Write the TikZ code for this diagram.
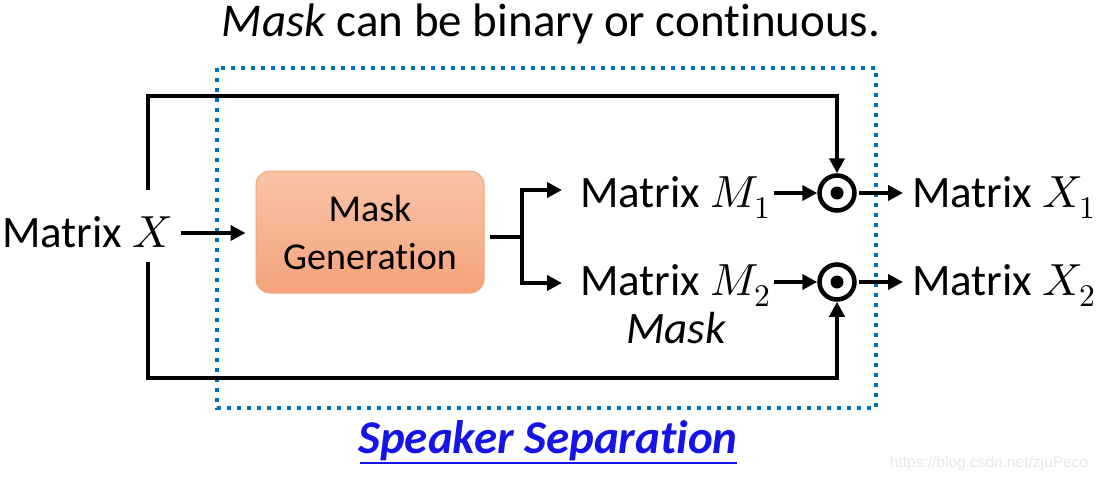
\documentclass[tikz,border=0pt]{standalone}
\usepackage{fontspec}
\usepackage{unicode-math}
\setmainfont[Ligatures=NoCommon]{Carlito}
\setmathfont{Latin Modern Math}
\newfontfamily\wmfont{Liberation Sans}
\usetikzlibrary{arrows.meta}
\definecolor{dotblue}{HTML}{0070C0}
\definecolor{ssblue}{HTML}{1414E6}
\definecolor{boxtop}{HTML}{F9C4A6}
\definecolor{boxbot}{HTML}{F4A27C}
\definecolor{boxedge}{HTML}{F2A679}
\tikzset{
  conn/.style={line width=4.5pt, -{Triangle[length=15pt,width=15pt]}},
  wire/.style={line width=4.5pt},
  lbl/.style={font=\fontsize{45}{52}\selectfont, inner sep=0pt},
  odotnode/.style={circle, draw, line width=4.5pt, minimum size=35pt, inner sep=0pt},
}
\begin{document}
\begin{tikzpicture}[x=1pt,y=-1pt]
\useasboundingbox (0,0) rectangle (1100,482);
% title
\node[lbl, font=\fontsize{47}{54}\selectfont, anchor=base] (title) at (551,36) {\textit{Mask} can be binary or continuous.};
% dotted box
\draw[dotblue, line width=4pt, dash pattern=on 4pt off 6pt] (217,68) rectangle (876,408);
% input
\node[lbl, anchor=base west] (mx) at (2,247) {Matrix $X$};
% mask generation box
\node[draw=boxedge, line width=1pt, rounded corners=14pt, top color=boxtop, bottom color=boxbot,
      minimum width=228pt, minimum height=122pt, align=center, font=\fontsize{38}{48}\selectfont]
      (mg) at (370,232) {Mask\\Generation};
\draw[conn] (181,233) -- ([xshift=-10pt]mg.west |- 0,233);
% branch
\coordinate (br) at (522,237);
\node[lbl, anchor=base west] (m1) at (580,207) {Matrix $M_1$};
\node[lbl, anchor=base west] (m2) at (580,295) {Matrix $M_2$};
% odots
\node[odotnode] (o1) at (837,193) {};
\node[odotnode] (o2) at (837,282) {};
\fill (o1.center) circle (6.5pt);
\fill (o2.center) circle (6.5pt);
\draw[wire] (490,237) -- (br);
\draw[conn] (522,190) -- ([xshift=-18pt]m1.west |- 0,190);
\draw[conn] (522,283) -- ([xshift=-18pt]m2.west |- 0,283);
\draw[wire] (522,187.75) -- (522,285.25);
\draw[conn] ([xshift=3pt]m1.east |- o1) -- (o1.west);
\draw[conn] ([xshift=3pt]m2.east |- o2) -- (o2.west);
% outputs
\node[lbl, anchor=base west] (x1) at (912,207) {Matrix $X_1$};
\node[lbl, anchor=base west] (x2) at (912,295) {Matrix $X_2$};
\draw[conn] ([xshift=2pt]o1.east) -- ([xshift=-9pt]x1.west |- o1);
\draw[conn] ([xshift=2pt]o2.east) -- ([xshift=-9pt]x2.west |- o2);
% bypass lines
\coordinate (tl) at (148,96);
\coordinate (bl) at (148,378);
\draw[wire, -{Triangle[length=15pt,width=15pt]}, line join=miter] (148,190) -- (tl) -- (837,96) -- (o1.north);
\draw[wire, -{Triangle[length=15pt,width=15pt]}, line join=miter] (148,262) -- (bl) -- (837,378) -- (o2.south);
% mask label
\node[lbl, font=\fontsize{45}{52}\selectfont\itshape, anchor=base] (masklbl) at (676,343) {Mask};
% speaker separation
\node[lbl, text=ssblue, font=\fontsize{47}{54}\selectfont\bfseries\itshape, anchor=base] (ss) at (548,453) {Speaker Separation};
\draw[ssblue, line width=2pt] (360,463) -- (737,463);
% watermark
\node[inner sep=0pt, text=black!9, font=\wmfont\fontsize{15.5}{18}\selectfont] (wm) at (989,463) {https://blog.csdn.net/zjuPeco};
\end{tikzpicture}
\end{document}
